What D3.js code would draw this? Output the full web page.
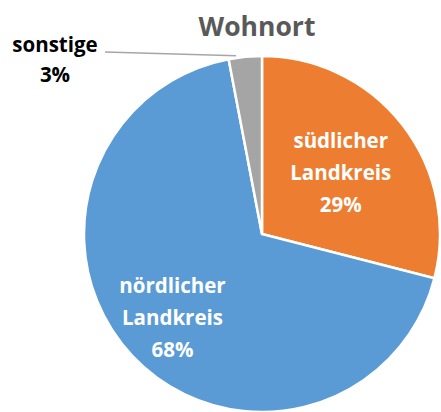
<!DOCTYPE html>
<html>
<head>
<meta charset="utf-8">
<script src="https://cdn.jsdelivr.net/npm/d3@7"></script>
<style>
  body { margin: 0; background: #fff; }
  text { font-family: "Open Sans", sans-serif; font-weight: bold; }
</style>
</head>
<body>
<div id="chart"></div>
<script>
// data
const categories = ["südlicher Landkreis", "nördlicher Landkreis", "sonstige"];
const labelLines = [["südlicher", "Landkreis"], ["nördlicher", "Landkreis"], ["sonstige"]];
const shares = [29, 68, 3];
const colors = ["#ED7D31", "#5B9BD5", "#A5A5A5"];

const width = 441, height = 412;
const cx = 262, cy = 234, r = 178;

const svg = d3.select("#chart").append("svg")
  .attr("width", width)
  .attr("height", height);

svg.append("text")
  .attr("x", 257)
  .attr("y", 36)
  .attr("text-anchor", "middle")
  .style("font-size", "26.5px")
  .attr("fill", "#595959")
  .text("Wohnort");

const data = categories.map((c, i) => ({ name: c, lines: labelLines[i], value: shares[i], color: colors[i] }));

const pie = d3.pie().sort(null).value(d => d.value);
const arcs = pie(data);

const arc = d3.arc().innerRadius(0).outerRadius(r);

const g = svg.append("g").attr("transform", "translate(" + cx + "," + cy + ")");

g.selectAll("path.slice")
  .data(arcs)
  .enter()
  .append("path")
    .attr("class", "slice")
    .attr("d", arc)
    .attr("fill", d => d.data.color)
    .attr("stroke", "#fff")
    .attr("stroke-width", 2.5)
    .attr("stroke-linejoin", "round");

// inside labels (Excel "best fit" puts them at different depths)
const labelDepth = [0.56, 0.69];
arcs.slice(0, 2).forEach((d, i) => {
  const lr = r * labelDepth[i];
  const c = d3.arc().innerRadius(lr).outerRadius(lr).centroid(d);
  const lines = d.data.lines.concat([d.data.value + "%"]);
  const lh = 32;
  const t = g.append("text")
    .attr("text-anchor", "middle")
    .attr("fill", "#fff")
    .style("font-size", "20.5px");
  lines.forEach((ln, k) => {
    t.append("tspan")
      .attr("x", c[0])
      .attr("y", c[1] + (k - (lines.length - 1) / 2) * lh + 7)
      .text(ln);
  });
});

// outside label for "sonstige" with leader line
const small = arcs[2];
const mid = (small.startAngle + small.endAngle) / 2 - 0.05;
const edge = [Math.sin(mid) * (r + 2), -Math.cos(mid) * (r + 2)];
g.append("polyline")
  .attr("points", [[105 - cx, 52 - cy], edge].map(p => p.join(",")).join(" "))
  .attr("fill", "none")
  .attr("stroke", "#A6A6A6")
  .attr("stroke-width", 1.5);

const st = svg.append("text")
  .attr("text-anchor", "middle")
  .attr("fill", "#000")
  .style("font-size", "20.5px");
[small.data.lines[0], small.data.value + "%"].forEach((ln, k) => {
  st.append("tspan")
    .attr("x", 55)
    .attr("y", 52 + k * 30)
    .text(ln);
});
</script>
</body>
</html>
